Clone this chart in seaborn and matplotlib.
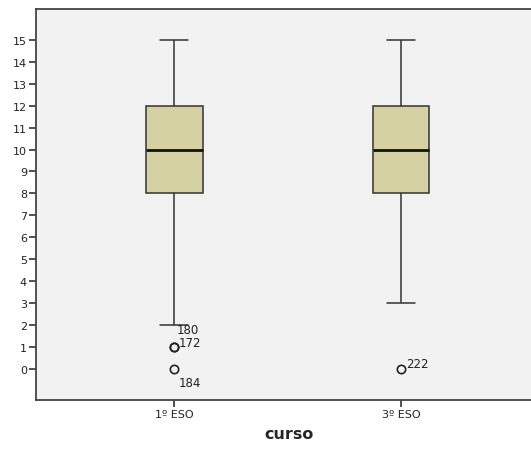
import numpy as np
import pandas as pd
import matplotlib
matplotlib.use("Agg")
import matplotlib.pyplot as plt
import seaborn as sns

# Data (score values and their frequencies per group)
categories = ["1º ESO", "3º ESO"]
values_1 = [0, 1, 2, 3, 4, 5, 6, 7, 8, 9, 10, 11, 12, 13, 14, 15]
counts_1 = [1, 2, 1, 1, 1, 1, 1, 2, 10, 8, 12, 8, 10, 4, 3, 2]
values_3 = [0, 3, 4, 5, 6, 7, 8, 9, 10, 11, 12, 13, 14, 15]
counts_3 = [1, 2, 2, 2, 2, 2, 10, 8, 12, 8, 10, 4, 3, 2]

# Outlier case labels: (category index, value, label)
outlier_cat = [0, 0, 0, 1]
outlier_val = [1, 1, 0, 0]
outlier_lab = ["180", "172", "184", "222"]
outlier_off = [(1.5, 13), (3, 3), (3, -10), (4, 4)]

df = pd.DataFrame({
    "curso": [categories[0]] * sum(counts_1) + [categories[1]] * sum(counts_3),
    "valor": np.concatenate([np.repeat(values_1, counts_1), np.repeat(values_3, counts_3)]),
})

sns.set_style("white")
plt.rcParams["font.family"] = ["DejaVu Sans"]

fig = plt.figure(figsize=(5.31, 4.52), dpi=100)
ax = fig.add_axes([36 / 531, 51 / 452, 1.02 - 36 / 531, 391 / 452])
ax.set_facecolor("#f2f2f2")

sns.boxplot(
    data=df, x="curso", y="valor", order=categories, ax=ax,
    color="#d6d1a3", saturation=1, width=0.25, linecolor="#333333", linewidth=1.1,
    fliersize=6,
    medianprops=dict(color="#111111", linewidth=2),
    flierprops=dict(marker="o", markerfacecolor="none", markeredgecolor="#222222", markeredgewidth=1.2),
)

for c, v, lab, off in zip(outlier_cat, outlier_val, outlier_lab, outlier_off):
    ax.annotate(lab, xy=(c, v), xytext=off, textcoords="offset points",
                fontsize=8.5, color="#222222", ha="left", va="center")

ax.set_ylim(-1.41, 16.4)
ax.set_xlim(-0.61, 1.62)
ax.set_yticks(range(0, 16))
ax.set_yticklabels([str(i) for i in range(0, 16)], fontsize=8, color="#222222")
ax.set_xticks([0, 1])
ax.set_xticklabels(categories, fontsize=8, color="#222222")
ax.tick_params(axis="both", direction="out", length=5, width=1.2, color="#333333", pad=1.5)
ax.tick_params(axis="y", left=True)
ax.tick_params(axis="x", bottom=True)
ax.set_ylabel("")
ax.set_xlabel("curso", fontsize=11.5, fontweight="bold", labelpad=5)

for s in ["left", "bottom", "top"]:
    ax.spines[s].set_visible(True)
    ax.spines[s].set_color("#444444")
    ax.spines[s].set_linewidth(1.3)
ax.spines["right"].set_visible(False)

fig.savefig("out.png", dpi=100)
